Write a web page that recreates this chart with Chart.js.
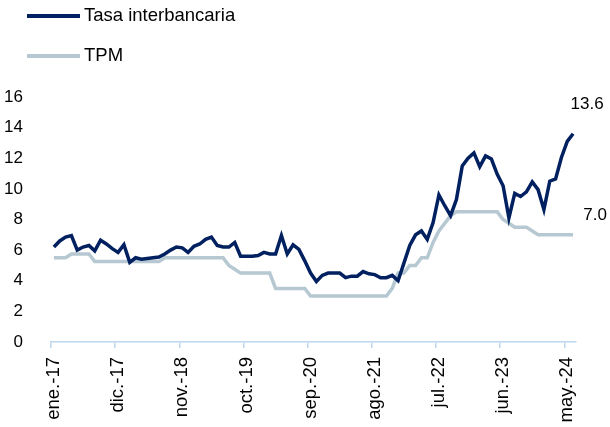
<!DOCTYPE html>
<html>
<head>
<meta charset="utf-8">
<script src="https://cdn.jsdelivr.net/npm/chart.js@4.4.1/dist/chart.umd.min.js"></script>
<style>
  body { margin: 0; background: #fff; }
</style>
</head>
<body>
<canvas id="chart" width="610" height="427"></canvas>
<script>
// categories: monthly, ene-17 .. jun-24
var monthNames = ["ene.", "feb.", "mar.", "abr.", "may.", "jun.", "jul.", "ago.", "sep.", "oct.", "nov.", "dic."];
var years = ["17", "18", "19", "20", "21", "22", "23", "24"];
var lastMonth = 6; // jun-24

var labels = [];
years.forEach(function (y, k) {
	var n = (k == years.length - 1) ? lastMonth : 12;
	for (var m = 0; m < n; m++) labels.push(monthNames[m] + "-" + y);
});

var interbancaria = [
	6.2, 6.6, 6.85, 6.95, 6.0, 6.2, 6.3, 5.95, 6.65, 6.4, 6.1, 5.85,
	6.35, 5.2, 5.5, 5.4, 5.45, 5.5, 5.55, 5.75, 6.0, 6.2, 6.15, 5.85,
	6.25, 6.4, 6.7, 6.85, 6.3, 6.2, 6.2, 6.5, 5.6, 5.6, 5.6, 5.65,
	5.85, 5.75, 5.75, 6.95, 5.75, 6.35, 6.05, 5.3, 4.5, 3.95, 4.35, 4.5,
	4.5, 4.5, 4.2, 4.3, 4.3, 4.6, 4.45, 4.4, 4.2, 4.2, 4.35, 4.0,
	5.15, 6.3, 7.0, 7.25, 6.7, 7.8, 9.6, 8.9, 8.25, 9.3, 11.5, 12.0,
	12.35, 11.45, 12.15, 11.95, 10.95, 10.2, 8.1, 9.7, 9.5, 9.8, 10.45, 9.95,
	8.65, 10.5, 10.65, 12.05, 13.1, 13.6
];

var tpm = [
	5.5, 5.5, 5.5, 5.75, 5.75, 5.75, 5.75, 5.25, 5.25, 5.25, 5.25, 5.25,
	5.25, 5.25, 5.25, 5.25, 5.25, 5.25, 5.25, 5.5, 5.5, 5.5, 5.5, 5.5,
	5.5, 5.5, 5.5, 5.5, 5.5, 5.5, 5.0, 4.75, 4.5, 4.5, 4.5, 4.5,
	4.5, 4.5, 3.5, 3.5, 3.5, 3.5, 3.5, 3.5, 3.0, 3.0, 3.0, 3.0,
	3.0, 3.0, 3.0, 3.0, 3.0, 3.0, 3.0, 3.0, 3.0, 3.0, 3.5, 4.5,
	4.5, 5.0, 5.0, 5.5, 5.5, 6.5, 7.25, 7.75, 8.25, 8.5, 8.5, 8.5,
	8.5, 8.5, 8.5, 8.5, 8.5, 8.0, 7.75, 7.5, 7.5, 7.5, 7.25, 7.0,
	7.0, 7.0, 7.0, 7.0, 7.0, 7.0
];

var tickEvery = 11;
var axisColor = '#BDD7EE';

Chart.defaults.font.family = "'Liberation Sans', Arial, sans-serif";
Chart.defaults.color = '#000';

// legend stacked at top-left, like the original
var stackedLegend = {
	id: 'stackedLegend',
	afterDraw: function (chart) {
		var ctx = chart.ctx;
		ctx.save();
		ctx.font = "18.5px 'Liberation Sans', Arial, sans-serif";
		ctx.textBaseline = 'middle';
		ctx.fillStyle = '#000';
		chart.data.datasets.forEach(function (ds, i) {
			var y = 16 + i * 40;
			ctx.strokeStyle = ds.borderColor;
			ctx.lineWidth = 4;
			ctx.beginPath();
			ctx.moveTo(27, y);
			ctx.lineTo(80, y);
			ctx.stroke();
			ctx.fillText(ds.label, 84, y);
		});
		ctx.restore();
	}
};

// value of the last point above each line
var endLabels = {
	id: 'endLabels',
	afterDatasetsDraw: function (chart, args, opts) {
		var ctx = chart.ctx;
		ctx.save();
		ctx.font = "17px 'Liberation Sans', Arial, sans-serif";
		ctx.textAlign = 'center';
		ctx.textBaseline = 'middle';
		ctx.fillStyle = '#000';
		chart.data.datasets.forEach(function (ds, i) {
			var meta = chart.getDatasetMeta(i);
			var pt = meta.data[meta.data.length - 1];
			var v = ds.data[ds.data.length - 1];
			ctx.fillText(v.toFixed(1), pt.x + opts.dx[i], pt.y + opts.dy[i]);
		});
		ctx.restore();
	}
};

var ctx = document.getElementById('chart');
var myChart = new Chart(ctx, {
	type: 'line',
	data: {
		labels: labels,
		datasets: [
			{ label: 'Tasa interbancaria', data: interbancaria, borderColor: '#002060', borderWidth: 3.5, pointRadius: 0, tension: 0 },
			{ label: 'TPM', data: tpm, borderColor: '#B6C8D2', borderWidth: 3.5, pointRadius: 0, tension: 0 }
		]
	},
	options: {
		responsive: false,
		animation: false,
		layout: { padding: { top: 97, right: 34, left: 0, bottom: 0 } },
		plugins: {
			legend: { display: false },
			tooltip: { enabled: false },
			endLabels: { dx: [14, 22], dy: [-29, -20] }
		},
		scales: {
			x: {
				offset: true,
				afterFit: function (scale) { scale.height = 85; },
				grid: {
					offset: true,
					drawOnChartArea: false,
					drawTicks: true,
					tickLength: 6,
					lineWidth: 1.5,
					color: function (c) { return c.index % tickEvery == 0 ? axisColor : 'rgba(0,0,0,0)'; }
				},
				border: { display: true, color: axisColor, width: 1.5 },
				ticks: {
					autoSkip: false,
					minRotation: 90,
					maxRotation: 90,
					padding: 9,
					font: { size: 18.5 },
					callback: function (val, i) { return i % tickEvery == 0 ? labels[i] : ''; }
				}
			},
			y: {
				min: 0,
				max: 16,
				afterFit: function (scale) { scale.width = 51; },
				grid: { display: false },
				border: { display: false },
				ticks: { stepSize: 2, padding: 20, font: { size: 17 } }
			}
		}
	},
	plugins: [stackedLegend, endLabels]
});
</script>
</body>
</html>
